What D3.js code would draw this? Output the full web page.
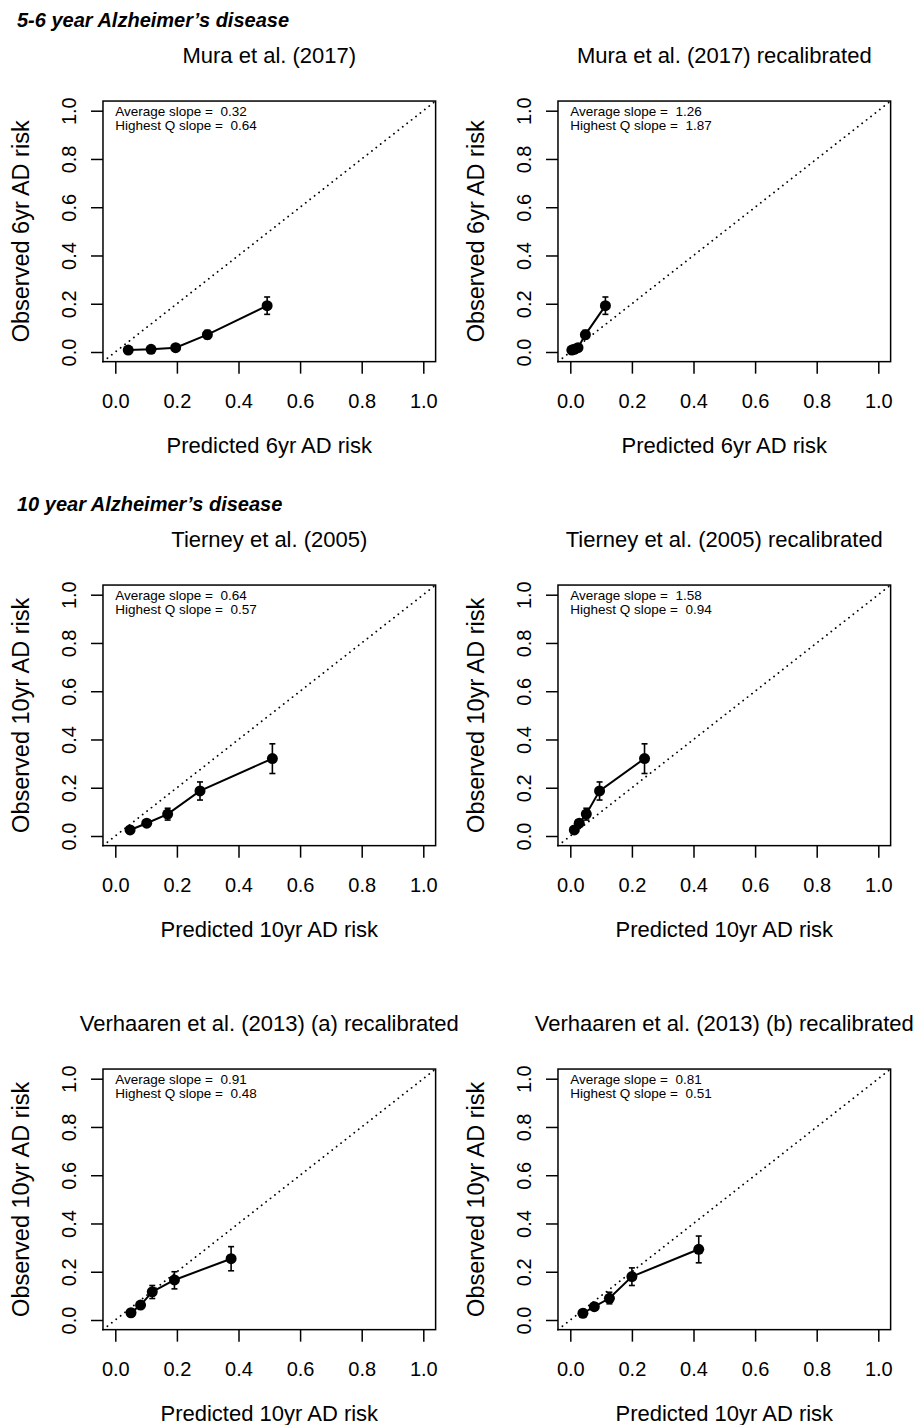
<!DOCTYPE html>
<html>
<head>
<meta charset="utf-8">
<script src="https://cdn.jsdelivr.net/npm/d3@7"></script>
<style>
  html, body { margin: 0; padding: 0; background: #fff; }
  svg { display: block; }
  text { font-family: "Liberation Sans", Arial, Helvetica, sans-serif; fill: #000; }
</style>
</head>
<body>
<svg id="chart" width="917" height="1425"></svg>
<script>
// ---- Data ----
const sectionTitles = ["5-6 year Alzheimer\u2019s disease", "10 year Alzheimer\u2019s disease"];
const panelTitles = [
  "Mura et al. (2017)",
  "Mura et al. (2017) recalibrated",
  "Tierney et al. (2005)",
  "Tierney et al. (2005) recalibrated",
  "Verhaaren et al. (2013) (a) recalibrated",
  "Verhaaren et al. (2013) (b) recalibrated"
];
const xTitles = ["Predicted 6yr AD risk", "Predicted 6yr AD risk", "Predicted 10yr AD risk", "Predicted 10yr AD risk", "Predicted 10yr AD risk", "Predicted 10yr AD risk"];
const yTitles = ["Observed 6yr AD risk", "Observed 6yr AD risk", "Observed 10yr AD risk", "Observed 10yr AD risk", "Observed 10yr AD risk", "Observed 10yr AD risk"];
const tickValues = [0, 0.2, 0.4, 0.6, 0.8, 1.0];
const tickLabels = ["0.0", "0.2", "0.4", "0.6", "0.8", "1.0"];
const averageSlopes = ["0.32", "1.26", "0.64", "1.58", "0.91", "0.81"];
const highestQSlopes = ["0.64", "1.87", "0.57", "0.94", "0.48", "0.51"];

// Mura et al. (2017)
const muraPred = [0.042, 0.116, 0.196, 0.299, 0.493];
const muraObs  = [0.008, 0.011, 0.018, 0.072, 0.192];
const muraLo   = [0.004, 0.006, 0.011, 0.055, 0.156];
const muraHi   = [0.012, 0.016, 0.025, 0.090, 0.228];
// Mura et al. (2017) recalibrated
const muraRecalPred = [0.005, 0.013, 0.025, 0.049, 0.114];
const muraRecalObs  = [0.008, 0.011, 0.018, 0.072, 0.192];
const muraRecalLo   = [0.004, 0.006, 0.011, 0.055, 0.156];
const muraRecalHi   = [0.012, 0.016, 0.025, 0.090, 0.228];
// Tierney et al. (2005)
const tierneyPred = [0.048, 0.102, 0.170, 0.275, 0.510];
const tierneyObs  = [0.025, 0.053, 0.091, 0.187, 0.321];
const tierneyLo   = [0.016, 0.041, 0.066, 0.149, 0.259];
const tierneyHi   = [0.034, 0.065, 0.115, 0.224, 0.382];
// Tierney et al. (2005) recalibrated
const tierneyRecalPred = [0.013, 0.029, 0.052, 0.095, 0.241];
const tierneyRecalObs  = [0.025, 0.053, 0.091, 0.187, 0.321];
const tierneyRecalLo   = [0.016, 0.041, 0.066, 0.149, 0.259];
const tierneyRecalHi   = [0.034, 0.065, 0.115, 0.224, 0.382];
// Verhaaren et al. (2013) (a) recalibrated
const verhaarenAPred = [0.051, 0.082, 0.120, 0.192, 0.376];
const verhaarenAObs  = [0.030, 0.062, 0.117, 0.166, 0.254];
const verhaarenALo   = [0.021, 0.049, 0.089, 0.129, 0.204];
const verhaarenAHi   = [0.039, 0.075, 0.143, 0.200, 0.304];
// Verhaaren et al. (2013) (b) recalibrated
const verhaarenBPred = [0.041, 0.078, 0.127, 0.200, 0.417];
const verhaarenBObs  = [0.028, 0.055, 0.090, 0.180, 0.293];
const verhaarenBLo   = [0.019, 0.043, 0.067, 0.143, 0.237];
const verhaarenBHi   = [0.037, 0.067, 0.115, 0.216, 0.348];

const seriesPred = [muraPred, muraRecalPred, tierneyPred, tierneyRecalPred, verhaarenAPred, verhaarenBPred];
const seriesObs  = [muraObs, muraRecalObs, tierneyObs, tierneyRecalObs, verhaarenAObs, verhaarenBObs];
const seriesLo   = [muraLo, muraRecalLo, tierneyLo, tierneyRecalLo, verhaarenALo, verhaarenBLo];
const seriesHi   = [muraHi, muraRecalHi, tierneyHi, tierneyRecalHi, verhaarenAHi, verhaarenBHi];

// ---- Layout ----
const svg = d3.select("#chart");
const colStep = 455, rowStep = 484;
const base = { x0: 115.3, x1: 423.3, y0: 352, y1: 110.7 };
const ext = 0.04;

sectionTitles.forEach((t, r) => {
  svg.append("text")
    .attr("x", 17).attr("y", 27 + r * rowStep)
    .attr("font-size", 20).attr("font-weight", "bold").attr("font-style", "italic")
    .text(t);
});

panelTitles.forEach((title, i) => {
  const col = i % 2, row = Math.floor(i / 2);
  const ox = col * colStep, oy = row * rowStep;
  const x = d3.scaleLinear().domain([0, 1]).range([base.x0 + ox, base.x1 + ox]);
  const y = d3.scaleLinear().domain([0, 1]).range([base.y0 + oy, base.y1 + oy]);
  const g = svg.append("g");

  // axes
  const xAxis = d3.axisBottom(x).tickValues(tickValues).tickFormat((d, k) => tickLabels[k]).tickSize(12).tickPadding(0);
  const gx = g.append("g").attr("transform", `translate(0,${y(-ext)})`).call(xAxis);
  gx.select(".domain").remove();
  gx.selectAll("line").attr("stroke", "#000").attr("stroke-width", 1.5);
  gx.selectAll("text").attr("font-size", 20).attr("fill", "#000")
    .attr("font-family", '"Liberation Sans", Arial, sans-serif')
    .attr("dy", null).attr("y", 46);

  const yAxis = d3.axisLeft(y).tickValues(tickValues).tickFormat((d, k) => tickLabels[k]).tickSize(12).tickPadding(0);
  const gy = g.append("g").attr("transform", `translate(${x(-ext)},0)`).call(yAxis);
  gy.select(".domain").remove();
  gy.selectAll("line").attr("stroke", "#000").attr("stroke-width", 1.5);
  gy.selectAll("text").attr("font-size", 20).attr("fill", "#000")
    .attr("font-family", '"Liberation Sans", Arial, sans-serif')
    .attr("x", null).attr("dy", null).attr("text-anchor", "middle")
    .attr("transform", "translate(-27,0) rotate(-90)");

  // box
  g.append("rect")
    .attr("x", x(-ext)).attr("y", y(1 + ext))
    .attr("width", x(1 + ext) - x(-ext)).attr("height", y(-ext) - y(1 + ext))
    .attr("fill", "none").attr("stroke", "#000").attr("stroke-width", 1.5);

  // reference diagonal
  g.append("line")
    .attr("x1", x(-ext)).attr("y1", y(-ext)).attr("x2", x(1 + ext)).attr("y2", y(1 + ext))
    .attr("stroke", "#000").attr("stroke-width", 1.8)
    .attr("stroke-linecap", "round").attr("stroke-dasharray", "0.1 5.5");

  // titles
  g.append("text").attr("x", x(0.5)).attr("y", 63 + oy)
    .attr("text-anchor", "middle").attr("font-size", 22).text(title);
  g.append("text").attr("x", x(0.5)).attr("y", 453 + oy)
    .attr("text-anchor", "middle").attr("font-size", 22).text(xTitles[i]);
  g.append("text")
    .attr("transform", `translate(${29 + ox},${y(0.5)}) rotate(-90)`)
    .attr("text-anchor", "middle").attr("font-size", 23.5).text(yTitles[i]);

  // annotation
  g.append("text").attr("x", x(0)).attr("y", 116 + oy).attr("font-size", 13.5)
    .attr("xml:space", "preserve").text("Average slope =  " + averageSlopes[i]);
  g.append("text").attr("x", x(0)).attr("y", 130 + oy).attr("font-size", 13.5)
    .attr("xml:space", "preserve").text("Highest Q slope =  " + highestQSlopes[i]);

  // data
  const pts = seriesPred[i].map((p, k) => ({ p, o: seriesObs[i][k], lo: seriesLo[i][k], hi: seriesHi[i][k] }));
  g.append("path").datum(pts)
    .attr("d", d3.line().x(d => x(d.p)).y(d => y(d.o)))
    .attr("fill", "none").attr("stroke", "#000").attr("stroke-width", 2);
  const eb = g.append("g").attr("stroke", "#000").attr("stroke-width", 1.6);
  eb.selectAll(".v").data(pts).join("line")
    .attr("x1", d => x(d.p)).attr("x2", d => x(d.p))
    .attr("y1", d => y(d.lo)).attr("y2", d => y(d.hi));
  eb.selectAll(".ct").data(pts).join("line")
    .attr("x1", d => x(d.p) - 3).attr("x2", d => x(d.p) + 3)
    .attr("y1", d => y(d.hi)).attr("y2", d => y(d.hi));
  eb.selectAll(".cb").data(pts).join("line")
    .attr("x1", d => x(d.p) - 3).attr("x2", d => x(d.p) + 3)
    .attr("y1", d => y(d.lo)).attr("y2", d => y(d.lo));
  g.selectAll("circle").data(pts).join("circle")
    .attr("cx", d => x(d.p)).attr("cy", d => y(d.o)).attr("r", 5.5).attr("fill", "#000");
});
</script>
</body>
</html>
